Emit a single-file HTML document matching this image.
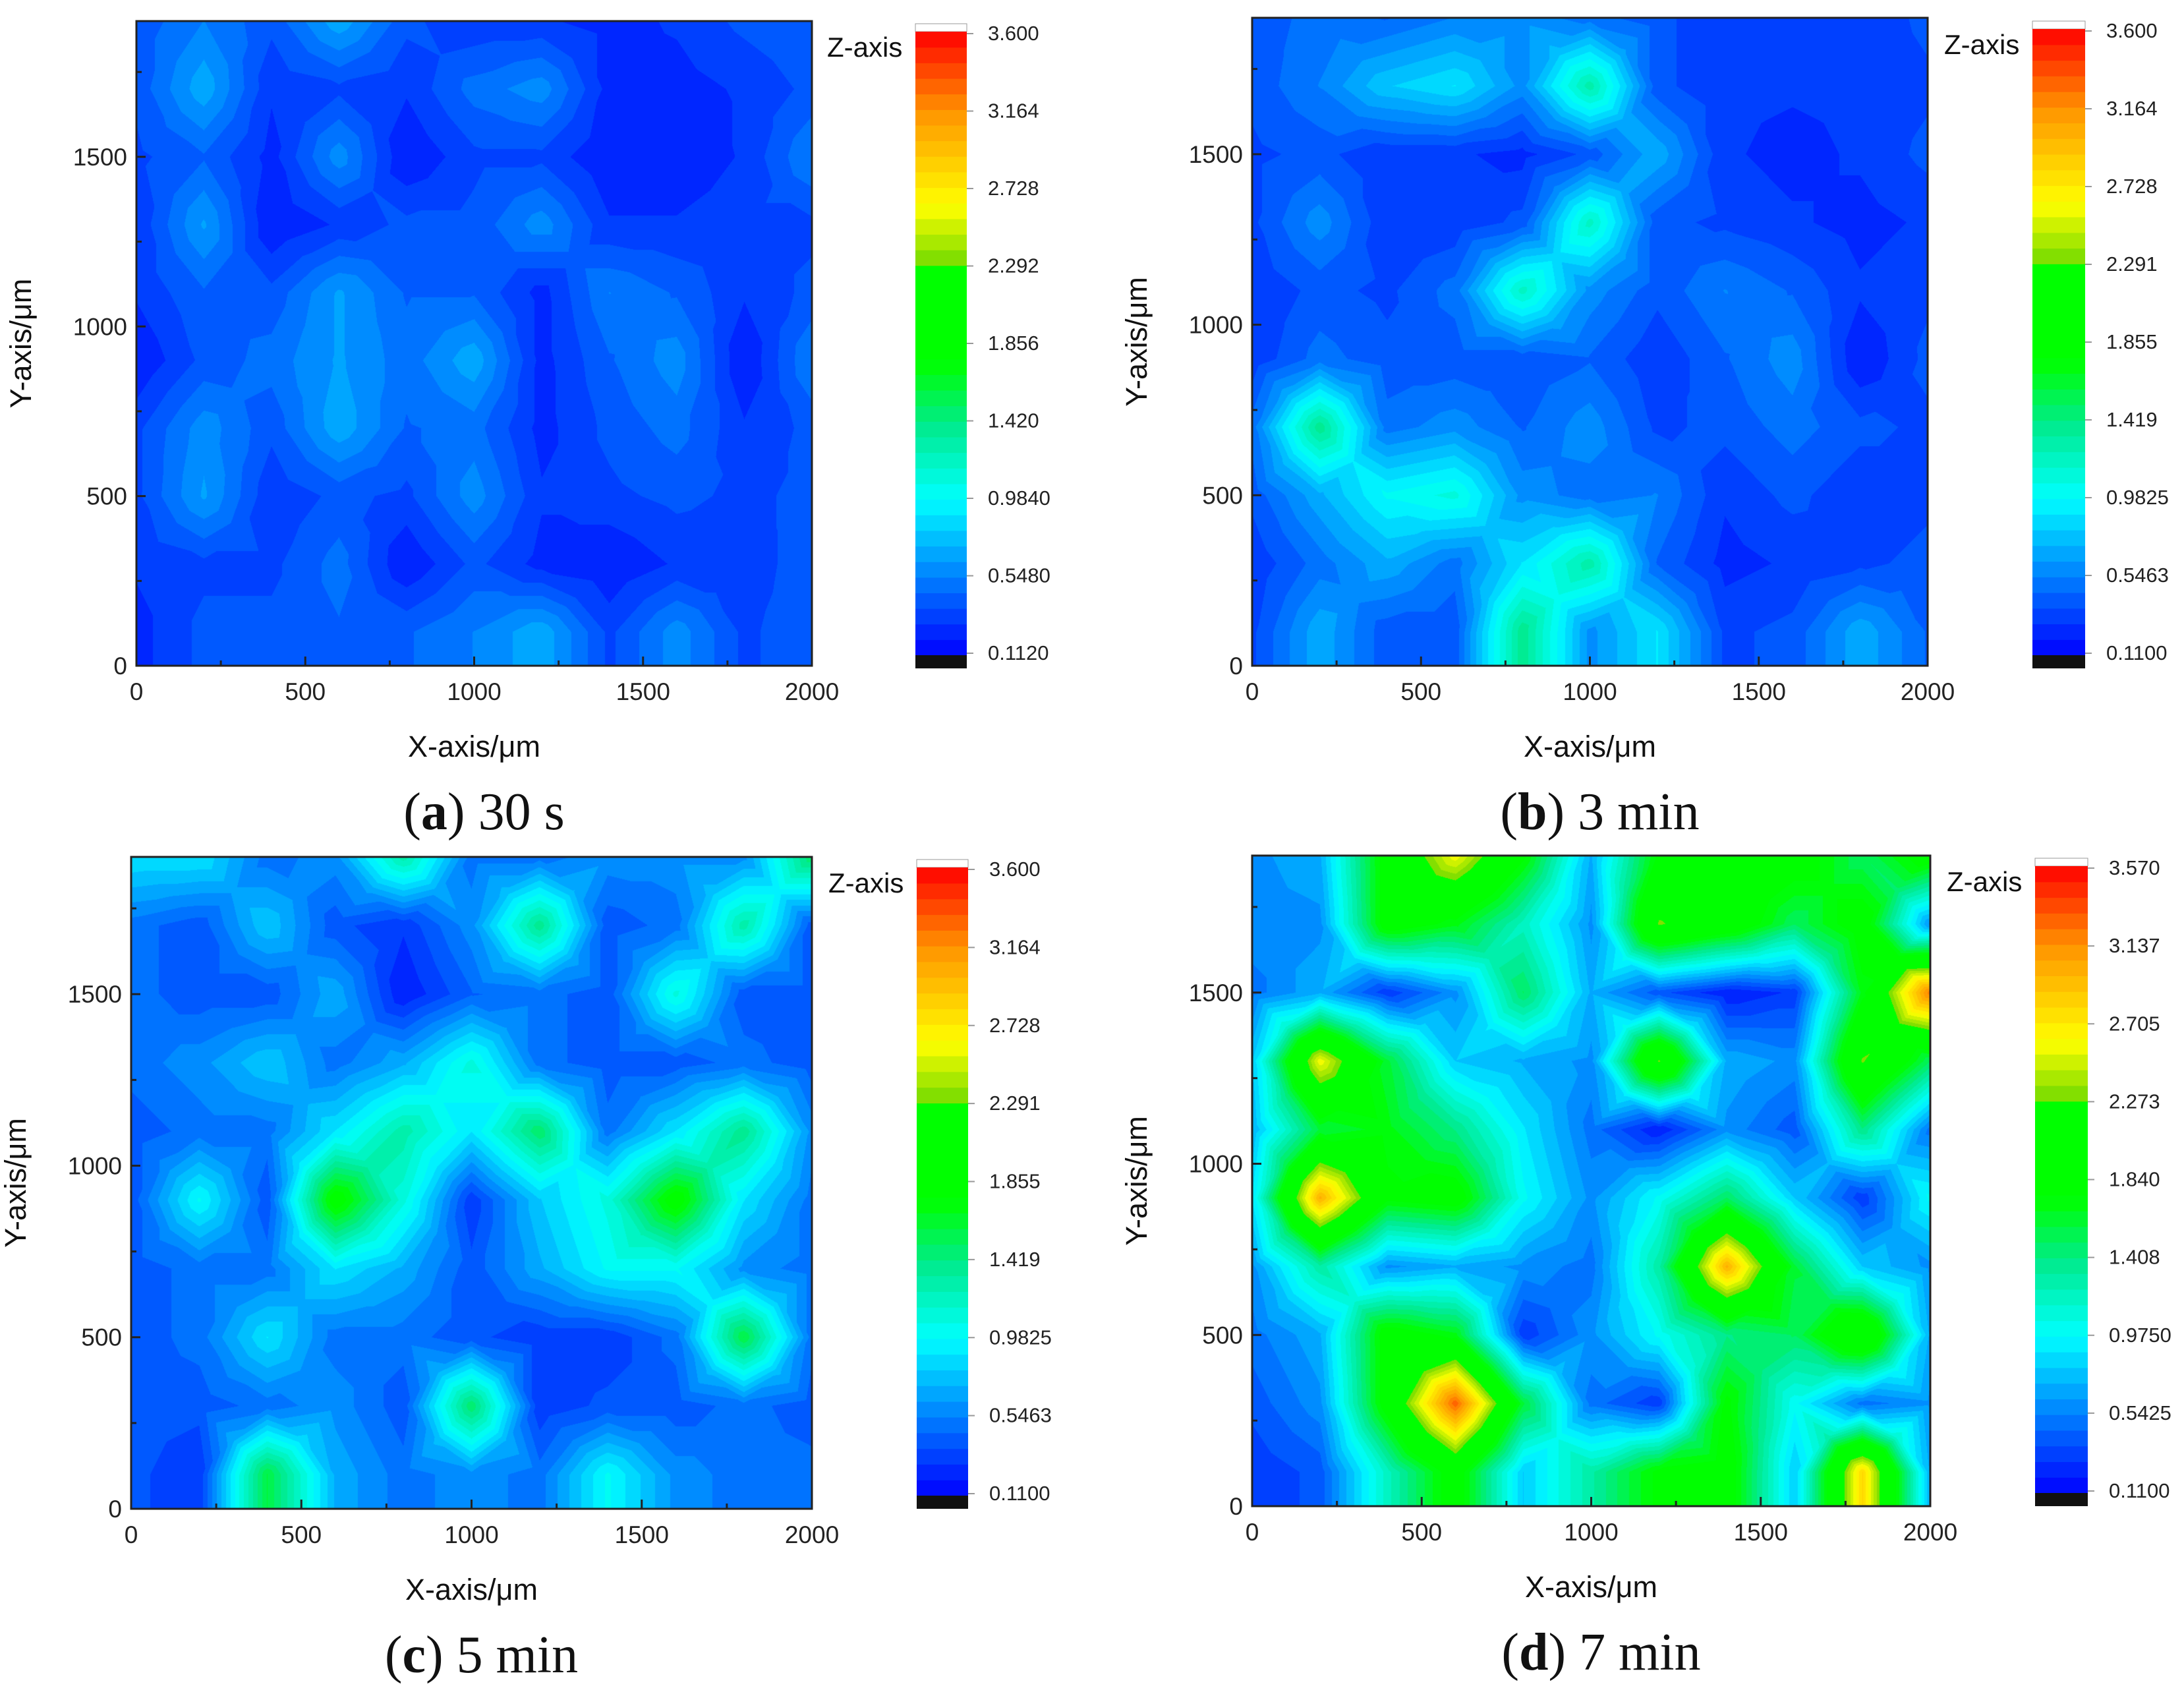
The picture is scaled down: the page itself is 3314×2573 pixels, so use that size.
<!DOCTYPE html>
<html><head><meta charset="utf-8">
<style>
html,body{margin:0;padding:0;background:#fff;}
#root{position:relative;width:3314px;height:2573px;overflow:hidden;background:#fff;}
canvas{position:absolute;}
svg{position:absolute;left:0;top:0;}
</style></head>
<body>
<div id="root">
<svg id="svg" width="3314" height="2573"></svg>
</div>
<script>
// ---- data ----
const xGrid = [0,200,400,600,800,1000,1200,1400,1600,1800,2000];
const yGrid = [100,300,500,700,900,1100,1300,1500,1700,1900];
const xTicks = [0,500,1000,1500,2000];
const yTicks = [0,500,1000,1500];
// rows listed from y=1900 (top) down to y=100
const zA = [
[0.4,0.55,0.4,0.7,0.4,0.3,0.3,0.25,0.3,0.4,0.45],
[0.4,0.7,0.3,0.35,0.3,0.5,0.6,0.25,0.25,0.3,0.4],
[0.35,0.45,0.25,0.6,0.2,0.35,0.35,0.2,0.2,0.3,0.55],
[0.3,0.65,0.2,0.3,0.4,0.4,0.6,0.3,0.3,0.35,0.35],
[0.3,0.45,0.4,0.65,0.45,0.45,0.25,0.55,0.45,0.3,0.4],
[0.2,0.4,0.5,0.65,0.5,0.7,0.25,0.45,0.6,0.2,0.55],
[0.35,0.6,0.4,0.7,0.45,0.5,0.25,0.4,0.5,0.3,0.4],
[0.35,0.65,0.3,0.4,0.35,0.6,0.3,0.35,0.4,0.35,0.4],
[0.3,0.35,0.35,0.5,0.2,0.4,0.25,0.2,0.3,0.3,0.45],
[0.25,0.4,0.4,0.45,0.45,0.55,0.7,0.35,0.6,0.35,0.45]];
const zB = [
[0.4,0.5,0.45,0.55,0.6,0.5,0.4,0.3,0.35,0.3,0.4],
[0.4,0.55,0.8,0.9,0.6,1.3,0.4,0.3,0.3,0.3,0.35],
[0.35,0.4,0.3,0.3,0.25,0.4,0.7,0.3,0.25,0.3,0.4],
[0.35,0.6,0.3,0.3,0.4,1.2,0.4,0.35,0.3,0.25,0.3],
[0.3,0.4,0.35,0.5,1.2,0.6,0.4,0.55,0.45,0.3,0.35],
[0.3,0.5,0.4,0.4,0.4,0.45,0.3,0.45,0.6,0.2,0.4],
[0.5,1.4,0.5,0.6,0.45,0.6,0.35,0.4,0.5,0.4,0.35],
[0.4,0.7,1.0,1.1,0.6,0.5,0.55,0.3,0.4,0.3,0.35],
[0.3,0.5,0.7,0.5,0.9,1.3,0.45,0.25,0.3,0.35,0.4],
[0.35,0.7,0.4,0.4,1.4,0.6,0.9,0.35,0.4,0.7,0.45]];
const zC = [
[0.9,0.9,0.5,0.6,1.3,0.5,0.5,0.6,0.6,0.6,1.5],
[0.5,0.4,0.8,0.4,0.3,0.6,1.4,0.4,0.5,1.3,0.4],
[0.5,0.4,0.4,0.7,0.2,0.45,0.5,0.4,1.1,0.4,0.4],
[0.5,0.6,0.8,0.5,0.7,1.1,0.5,0.4,0.4,0.5,0.4],
[0.4,0.5,0.5,0.9,1.3,0.9,1.5,0.5,0.9,1.4,0.6],
[0.4,1.0,0.4,1.9,1.1,0.3,0.8,1.1,1.9,0.9,0.5],
[0.4,0.5,0.5,0.9,0.7,0.4,0.7,1.0,1.0,0.6,0.5],
[0.4,0.5,0.9,0.5,0.5,0.4,0.3,0.3,0.5,1.6,0.5],
[0.4,0.4,0.5,0.6,0.4,1.5,0.3,0.4,0.4,0.5,0.4],
[0.4,0.3,1.6,0.7,0.5,0.6,0.5,1.0,0.6,0.5,0.5]];
const zD = [
[0.6,0.7,1.9,2.6,1.8,0.7,1.8,2.0,1.9,1.5,1.9],
[0.6,0.6,1.9,1.7,1.2,0.6,2.3,2.0,1.5,1.9,0.6],
[0.5,0.7,0.3,0.6,1.5,0.7,0.4,0.2,0.3,1.7,3.2],
[0.8,2.6,1.6,0.8,0.7,0.6,2.3,0.7,0.6,2.3,1.5],
[0.7,1.6,1.7,1.4,0.9,0.5,0.2,0.6,0.4,1.4,0.5],
[0.9,3.0,1.8,1.9,1.0,0.6,1.0,1.5,0.8,0.3,1.0],
[0.6,1.3,0.6,0.7,0.6,0.5,1.3,3.0,1.6,0.8,0.6],
[0.5,0.7,1.9,1.7,0.3,0.6,1.0,1.4,1.5,2.2,0.7],
[0.4,0.6,1.9,3.3,1.6,0.5,0.3,1.8,1.0,0.5,0.6],
[0.3,0.4,1.2,1.9,0.8,1.3,1.8,1.9,0.8,2.8,0.7]];
const cbLabelsA = ["3.600","3.164","2.728","2.292","1.856","1.420","0.9840","0.5480","0.1120"];
const cbLabelsB = ["3.600","3.164","2.728","2.291","1.855","1.419","0.9825","0.5463","0.1100"];
const cbLabelsC = ["3.600","3.164","2.728","2.291","1.855","1.419","0.9825","0.5463","0.1100"];
const cbLabelsD = ["3.570","3.137","2.705","2.273","1.840","1.408","0.9750","0.5425","0.1100"];
const zRangeA = [0.112,3.6];
const zRangeB = [0.11,3.6];
const zRangeC = [0.11,3.6];
const zRangeD = [0.11,3.57];
const captionLetters = ["a","b","c","d"];
const captionTexts = [" 30 s"," 3 min"," 5 min"," 7 min"];

// ---- layout ----
const panels = [
 {z:zA,r:zRangeA,lab:cbLabelsA,px:207,py:32,pw:1025,ph:978,cx:1389,cy:36,cw:78,ch:978},
 {z:zB,r:zRangeB,lab:cbLabelsB,px:1900,py:27,pw:1025,ph:983,cx:3084,cy:32,cw:80,ch:982},
 {z:zC,r:zRangeC,lab:cbLabelsC,px:199,py:1300,pw:1033,ph:989,cx:1391,cy:1304,cw:78,ch:985},
 {z:zD,r:zRangeD,lab:cbLabelsD,px:1900,py:1298,pw:1029,ph:987,cx:3088,cy:1302,cw:80,ch:983}
];
const NB = 40;
const stops = [[0,0,0,255],[0.25,0,255,255],[0.37,0,235,140],[0.47,0,255,0],[0.62,0,255,0],[0.63,120,220,0],[0.72,255,255,0],[0.87,255,150,0],[1,255,0,0]];
function cmap(t){
  for(let i=1;i<stops.length;i++){
    if(t<=stops[i][0]){const a=stops[i-1],b=stops[i];const f=(t-a[0])/(b[0]-a[0]);
      return [a[1]+(b[1]-a[1])*f,a[2]+(b[2]-a[2])*f,a[3]+(b[3]-a[3])*f].map(Math.round);}
  }
  return [255,0,0];
}
const bandColors=[];for(let i=0;i<NB;i++)bandColors.push(cmap((i+0.5)/NB));

const NS='http://www.w3.org/2000/svg';
const svg=document.getElementById('svg');
function mk(tag,attrs,parent){const e=document.createElementNS(NS,tag);for(const k in attrs)e.setAttribute(k,attrs[k]);(parent||svg).appendChild(e);return e;}

function valueAt(z,x,y){
  const nx=xGrid.length, ny=yGrid.length;
  let fx=(x-xGrid[0])/(xGrid[nx-1]-xGrid[0])*(nx-1);
  let fy=(y-yGrid[0])/(yGrid[ny-1]-yGrid[0])*(ny-1);
  fx=Math.max(0,Math.min(nx-1.0001,fx)); fy=Math.max(0,Math.min(ny-1.0001,fy));
  const i=Math.floor(fx), j=Math.floor(fy), u=fx-i, v=fy-j;
  const g=(jj,ii)=>z[ny-1-jj][ii];
  const a=g(j,i),b=g(j,i+1),c=g(j+1,i),d=g(j+1,i+1);
  const m=(a+b+c+d)/4;
  if(v<=u && v<=1-u){ // bottom: a(0,0) b(1,0)
    return a+(b-a)*(u-v)+(m-a)*2*v;
  } else if(v>=u && v>=1-u){ // top: c(0,1) d(1,1)
    const w=1-v; return c+(d-c)*(u-w)+(m-c)*2*w;
  } else if(u<v){ // left: a(0,0) c(0,1)
    return a+(c-a)*(v-u)+(m-a)*2*u;
  } else { // right: b(1,0) d(1,1)
    const w=1-u; return b+(d-b)*(v-w)+(m-b)*2*w;
  }
}

panels.forEach((p,k)=>{
  const g=mk('g',{});
  
  
  const xs=v=>p.px+v/2000*p.pw;
  const ys=v=>p.py+p.ph-v/1900*p.ph;
  const cv=document.createElement('canvas');
  cv.width=p.pw;cv.height=p.ph;cv.style.left=p.px+'px';cv.style.top=p.py+'px';
  
  
  document.getElementById('root').insertBefore(cv,svg);
  const ctx=cv.getContext('2d');const img=ctx.createImageData(p.pw,p.ph);
  const [zmin,zmax]=p.r;
  for(let py=0;py<p.ph;py++){const yv=(p.ph-py-0.5)/p.ph*1900;
    for(let px=0;px<p.pw;px++){const xv=(px+0.5)/p.pw*2000;
      const val=valueAt(p.z,xv,yv);
      let b=Math.floor((val-zmin)/(zmax-zmin)*NB);b=Math.max(0,Math.min(NB-1,b));
      const c=bandColors[b];const o=(py*p.pw+px)*4;
      img.data[o]=c[0];img.data[o+1]=c[1];img.data[o+2]=c[2];img.data[o+3]=255;}}
  ctx.putImageData(img,0,0);
  const fr=mk('rect',{x:p.px,y:p.py,width:p.pw,height:p.ph,fill:'none',stroke:'#222','stroke-width':3},g);
  
  
  xTicks.forEach(t=>{
    const l=mk('line',{x1:xs(t),x2:xs(t),y1:p.py+p.ph,y2:p.py+p.ph-14,stroke:'#222','stroke-width':3},g);
    
    
    if(t<2000){
      const m=mk('line',{x1:xs(t+250),x2:xs(t+250),y1:p.py+p.ph,y2:p.py+p.ph-8,stroke:'#222','stroke-width':3},g);
      
      
    }
    const tx=mk('text',{x:xs(t),y:p.py+p.ph+52,'text-anchor':'middle','font-size':37,'font-family':'Liberation Sans, sans-serif',fill:'#222'},g);
    tx.textContent=t;
    
    
  });
  yTicks.forEach(t=>{
    const l=mk('line',{x1:p.px,x2:p.px+14,y1:ys(t),y2:ys(t),stroke:'#222','stroke-width':3},g);
    
    
    const m=mk('line',{x1:p.px,x2:p.px+8,y1:ys(t+250),y2:ys(t+250),stroke:'#222','stroke-width':3},g);
    
    
    const tx=mk('text',{x:p.px-14,y:ys(t)+13,'text-anchor':'end','font-size':37,'font-family':'Liberation Sans, sans-serif',fill:'#222'},g);
    tx.textContent=t;
    
    
  });
  const xt=mk('text',{x:p.px+p.pw/2,y:p.py+p.ph+138,'text-anchor':'middle','font-size':45,'font-family':'Liberation Sans, sans-serif',fill:'#111'},g);
  xt.textContent='X-axis/\u03bcm';
  
  
  const ycx=p.px-160, ycy=p.py+p.ph/2;
  const yt=mk('text',{x:ycx,y:ycy,'text-anchor':'middle','font-size':45,'font-family':'Liberation Sans, sans-serif',fill:'#111',transform:'rotate(-90 '+ycx+' '+ycy+')'},g);
  yt.textContent='Y-axis/\u03bcm';
  
  
  const top=p.cy, bot=p.cy+p.ch, y0=top+12, y1=bot-20;
  const wr=mk('rect',{x:p.cx,y:top,width:p.cw,height:y0-top,fill:'#fff',stroke:'#999','stroke-width':1},g);
  
  
  for(let i=0;i<NB;i++){
    const h=(y1-y0)/NB;const c=bandColors[i];
    const r=mk('rect',{x:p.cx,y:y1-(i+1)*h,width:p.cw,height:h+0.6,fill:'rgb('+c.join(',')+')'},g);
    
    
  }
  const br=mk('rect',{x:p.cx,y:y1,width:p.cw,height:bot-y1,fill:'#111'},g);
  
  
  p.lab.forEach((s,i)=>{
    const ly=top+15+i*((bot-23)-(top+15))/(p.lab.length-1);
    const l=mk('line',{x1:p.cx+p.cw,x2:p.cx+p.cw+10,y1:ly,y2:ly,stroke:'#999','stroke-width':2},g);
    
    
    const tx=mk('text',{x:p.cx+p.cw+32,y:ly+10,'font-size':31,'font-family':'Liberation Sans, sans-serif',fill:'#222'},g);
    tx.textContent=s;
    
    
  });
  const za=mk('text',{x:p.cx-134,y:top+50,'font-size':42,'font-family':'Liberation Sans, sans-serif',fill:'#111'},g);
  za.textContent='Z-axis';
  
  
  const cap=mk('text',{x:p.px+p.pw/2+15,y:p.py+p.ph+248,'text-anchor':'middle','font-size':80,'font-family':'Liberation Serif, serif',fill:'#111'},g);
  
  
  const t1=mk('tspan',{},cap);t1.textContent='(';
  const t2=mk('tspan',{'font-weight':'bold'},cap);t2.textContent=captionLetters[k];
  const t3=mk('tspan',{},cap);t3.textContent=')'+captionTexts[k];
});
</script>
</body></html>
